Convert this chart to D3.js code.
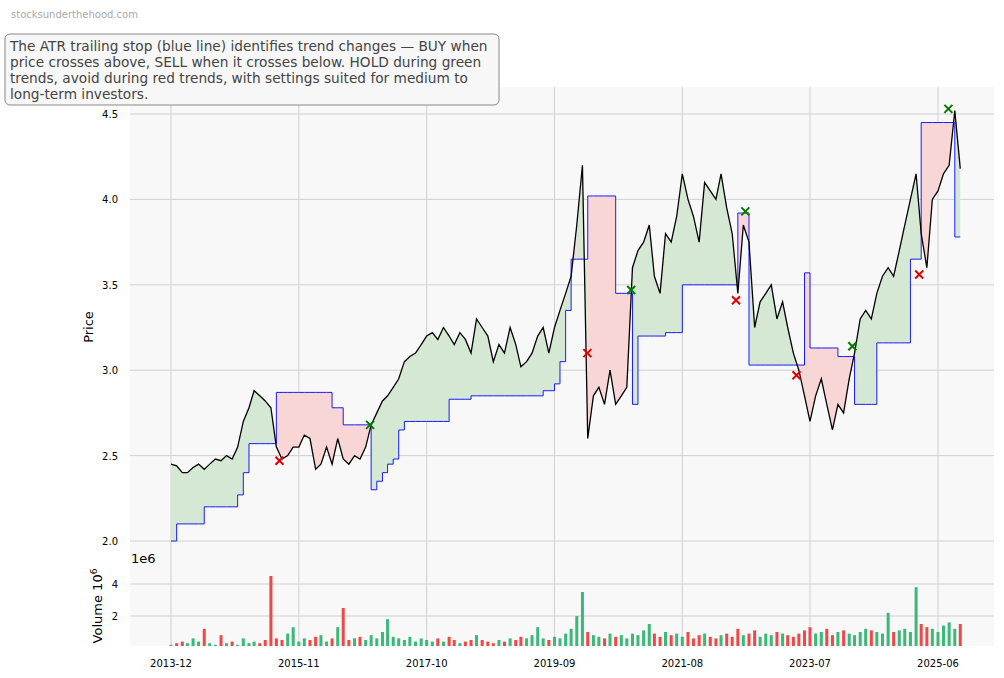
<!DOCTYPE html>
<html><head><meta charset="utf-8">
<script src="https://cdn.jsdelivr.net/npm/d3@7"></script>
<style>body{margin:0;background:#fff;font-family:"DejaVu Sans",sans-serif}</style>
</head><body><svg id="c" width="1004" height="678"></svg>
<script>
const startMonth = "2013-12";
const price = [2.45,2.44,2.40,2.40,2.43,2.45,2.42,2.45,2.48,2.47,2.50,2.48,2.55,2.70,2.78,2.88,2.85,2.82,2.78,2.55,2.48,2.50,2.55,2.55,2.62,2.60,2.42,2.45,2.55,2.45,2.60,2.48,2.45,2.50,2.48,2.55,2.68,2.75,2.82,2.85,2.90,2.95,3.05,3.08,3.10,3.15,3.20,3.22,3.18,3.25,3.20,3.15,3.22,3.18,3.10,3.30,3.25,3.20,3.05,3.15,3.10,3.25,3.15,3.02,3.05,3.10,3.20,3.25,3.10,3.25,3.35,3.45,3.55,3.85,4.20,2.60,2.85,2.90,2.80,3.00,2.80,2.85,2.90,3.60,3.70,3.75,3.85,3.55,3.45,3.80,3.75,3.90,4.15,4.00,3.90,3.75,4.10,4.05,4.00,4.15,3.95,3.80,3.45,3.85,3.75,3.25,3.40,3.45,3.50,3.30,3.40,3.25,3.10,3.00,2.85,2.70,2.85,2.95,2.80,2.65,2.80,2.75,2.95,3.10,3.30,3.35,3.30,3.45,3.55,3.60,3.55,3.70,3.85,4.00,4.15,3.80,3.60,4.00,4.05,4.15,4.20,4.52,4.18];
const stop = [2.00,2.10,2.10,2.10,2.10,2.10,2.20,2.20,2.20,2.20,2.20,2.20,2.27,2.40,2.57,2.57,2.57,2.57,2.57,2.87,2.87,2.87,2.87,2.87,2.87,2.87,2.87,2.87,2.87,2.78,2.78,2.68,2.68,2.68,2.68,2.68,2.30,2.35,2.40,2.45,2.48,2.65,2.70,2.70,2.70,2.70,2.70,2.70,2.70,2.70,2.83,2.83,2.83,2.83,2.85,2.85,2.85,2.85,2.85,2.85,2.85,2.85,2.85,2.85,2.85,2.85,2.85,2.88,2.88,2.92,3.05,3.35,3.65,3.65,3.65,4.02,4.02,4.02,4.02,4.02,3.45,3.45,3.45,2.80,3.20,3.20,3.20,3.20,3.20,3.22,3.22,3.22,3.50,3.50,3.50,3.50,3.50,3.50,3.50,3.50,3.50,3.50,3.92,3.92,3.03,3.03,3.03,3.03,3.03,3.03,3.03,3.03,3.03,3.03,3.57,3.13,3.13,3.13,3.13,3.13,3.08,3.08,3.08,2.80,2.80,2.80,2.80,3.16,3.16,3.16,3.16,3.16,3.16,3.65,3.65,4.45,4.45,4.45,4.45,4.45,4.45,3.78,3.78];
const volume = [0.2,0.3,0.4,0.3,0.6,0.4,1.2,0.3,0.2,0.8,0.3,0.4,0.2,0.6,0.3,0.4,0.3,0.5,4.5,0.6,0.5,0.9,1.3,0.4,0.6,0.5,0.7,0.8,0.4,0.6,1.3,2.5,0.5,0.6,0.7,0.5,0.8,0.6,1.0,1.8,0.7,0.6,0.5,0.7,0.4,0.6,0.5,0.4,0.6,0.4,0.7,0.5,0.3,0.4,0.5,0.8,0.5,0.4,0.3,0.5,0.4,0.6,0.5,0.7,0.6,0.8,1.3,0.6,0.5,0.7,0.6,0.9,1.2,2.0,3.5,1.0,0.8,0.7,0.6,0.9,0.7,0.8,0.6,0.9,0.8,1.1,1.5,0.9,0.7,1.0,0.8,0.9,0.7,1.0,0.6,0.8,0.9,0.7,0.6,0.8,0.9,0.7,1.2,0.8,0.9,1.1,0.7,0.9,0.8,1.0,0.9,0.8,0.7,0.9,1.1,1.3,0.9,1.0,1.2,0.8,1.0,1.1,0.9,0.8,1.0,1.2,1.1,1.0,0.9,2.2,1.0,1.1,1.2,1.0,3.8,1.5,1.3,1.2,1.0,1.4,1.6,1.2,1.5];
const buyDates = ["2016-11-25","2020-10-25","2022-07-12","2024-02-18","2025-07-28"];
const buyValues = [2.68,3.47,3.93,3.14,4.53];
const sellDates = ["2015-07-18","2020-02-28","2022-05-22","2023-04-18","2025-02-18"];
const sellValues = [2.47,3.10,3.41,2.97,3.56];
const tickLabels = ["2013-12","2015-11","2017-10","2019-09","2021-08","2023-07","2025-06"];
const priceTicks = [2.0,2.5,3.0,3.5,4.0,4.5];
const volTicks = [2,4];

const parse = d3.timeParse("%Y-%m");
const parseDay = d3.timeParse("%Y-%m-%d");
const t0 = parse(startMonth);
const dates = price.map((_, i) => d3.timeMonth.offset(t0, i));
const svg = d3.select("#c");
const L = 130, R = 994;
const x = d3.scaleTime().domain([parse("2013-12"), parse("2025-06")]).range([171, 938]);
const y = d3.scaleLinear().domain([2.0, 4.5]).range([541, 114]);
const yv = d3.scaleLinear().domain([0, 4]).range([648, 584]);

svg.append("text").attr("x", 11).attr("y", 18).attr("font-size", 10).attr("fill", "#aaa").text("stocksunderthehood.com");

svg.append("rect").attr("x", L).attr("y", 87).attr("width", R - L).attr("height", 480).attr("fill", "#f8f8f8");
svg.append("rect").attr("x", L).attr("y", 567).attr("width", R - L).attr("height", 79).attr("fill", "#f8f8f8");
const grid = svg.append("g").attr("stroke", "#d0d0d0").attr("stroke-width", 1);
tickLabels.forEach(t => { const xx = x(parse(t)); grid.append("line").attr("x1", xx).attr("x2", xx).attr("y1", 87).attr("y2", 567); grid.append("line").attr("x1", xx).attr("x2", xx).attr("y1", 567).attr("y2", 646); });
priceTicks.forEach(v => grid.append("line").attr("x1", L).attr("x2", R).attr("y1", y(v)).attr("y2", y(v)));
volTicks.forEach(v => grid.append("line").attr("x1", L).attr("x2", R).attr("y1", yv(v)).attr("y2", yv(v)));

const runs = [];
let cur = null;
for (let i = 0; i < price.length - 1; i++) {
  const up = price[i] >= stop[i];
  const t1 = x(dates[i]), t2 = x(dates[i + 1]);
  const seg = [{X: t1, p: price[i], s: stop[i]}, {X: t2, p: price[i + 1], s: stop[i]}];
  if (!cur || cur.up !== up) { cur = {up, pts: []}; runs.push(cur); }
  cur.pts.push(...seg);
}
const area = d3.area().x(d => d.X).y0(d => y(d.s)).y1(d => y(d.p));
runs.forEach(r => svg.append("path").attr("d", area(r.pts)).attr("fill", r.up ? "#d4e8d4" : "#f9d6d6"));

const pts = price.map((p, i) => ({d: dates[i], p, s: stop[i]}));
svg.append("path").datum(pts).attr("d", d3.line().x(d => x(d.d)).y(d => y(d.s)).curve(d3.curveStepAfter))
  .attr("fill", "none").attr("stroke", "#1a1aff").attr("stroke-width", 1);
svg.append("path").datum(pts).attr("d", d3.line().x(d => x(d.d)).y(d => y(d.p)))
  .attr("fill", "none").attr("stroke", "#000").attr("stroke-width", 1.3);

function cross(dts, vals, col) {
  dts.forEach((d, i) => {
    const cx = x(parseDay(d)), cy = y(vals[i]), r = 4;
    svg.append("path").attr("d", `M${cx-r},${cy-r}L${cx+r},${cy+r}M${cx-r},${cy+r}L${cx+r},${cy-r}`).attr("stroke", col).attr("stroke-width", 2);
  });
}
cross(buyDates, buyValues, "#007a00");
cross(sellDates, sellValues, "#e00000");

volume.forEach((v, i) => {
  const upb = i === 0 || price[i] >= price[i - 1];
  svg.append("rect").attr("x", x(dates[i]) - 1.5).attr("width", 3).attr("y", yv(v)).attr("height", 646 - yv(v))
    .attr("fill", upb ? "#3cb878" : "#f04848");
});

const tx = svg.append("g").attr("font-size", 10).attr("fill", "#000");
priceTicks.forEach(v => tx.append("text").attr("x", 118).attr("y", y(v) + 4).attr("text-anchor", "end").text(v.toFixed(1)));
volTicks.forEach(v => tx.append("text").attr("x", 118).attr("y", yv(v) + 4).attr("text-anchor", "end").text(v));
tickLabels.forEach(t => tx.append("text").attr("x", x(parse(t))).attr("y", 667).attr("text-anchor", "middle").text(t));
svg.append("text").attr("transform", "translate(93,327) rotate(-90)").attr("text-anchor", "middle").attr("font-size", 13).text("Price");
const vl = svg.append("text").attr("transform", "translate(102,606) rotate(-90)").attr("text-anchor", "middle").attr("font-size", 13);
vl.append("tspan").text("Volume  10");
vl.append("tspan").attr("dy", -5).attr("font-size", 9).text("6");
svg.append("text").attr("x", 131).attr("y", 563).attr("font-size", 13).text("1e6");

svg.append("rect").attr("x", 5).attr("y", 34).attr("width", 494).attr("height", 71).attr("rx", 5).attr("fill", "#f7f7f7").attr("stroke", "#888");
const lines = ["The ATR trailing stop (blue line) identifies trend changes — BUY when", "price crosses above, SELL when it crosses below. HOLD during green", "trends, avoid during red trends, with settings suited for medium to", "long-term investors."];
lines.forEach((l, i) => svg.append("text").attr("x", 10).attr("y", 51 + i * 16).attr("font-size", 13.7).attr("fill", "#444").text(l));
</script></body></html>
